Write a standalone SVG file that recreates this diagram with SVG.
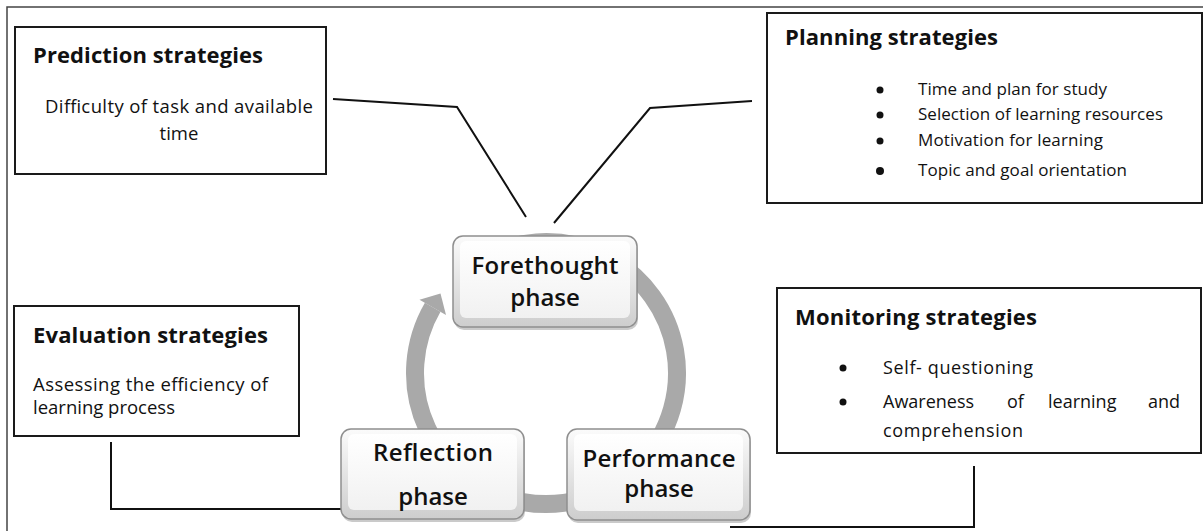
<svg xmlns="http://www.w3.org/2000/svg" width="1203" height="531" viewBox="0 0 1203 531">
<defs>
  <linearGradient id="bev" x1="0" y1="0" x2="0" y2="1">
    <stop offset="0" stop-color="#fbfbfb"/>
    <stop offset="1" stop-color="#cdcdcd"/>
  </linearGradient>
  <linearGradient id="face" x1="0" y1="0" x2="0" y2="1">
    <stop offset="0" stop-color="#ffffff"/>
    <stop offset="1" stop-color="#f1f1f1"/>
  </linearGradient>
</defs>
<style>
  .box{fill:#fff;stroke:#1a1a1a;stroke-width:2}
  .t{font-family:"Open Sans","Liberation Sans",sans-serif;fill:#111}
  .title{font-size:22px;font-weight:bold}
  .b17{font-size:17px;font-weight:500}
  .b18{font-size:18px;font-weight:500}
  .b19{font-size:18.5px;font-weight:500}
  .ph{font-size:24px;font-weight:600;text-anchor:middle}
  .conn{fill:none;stroke:#111;stroke-width:2}
  .pout{fill:url(#bev);stroke:#8f8f8f;stroke-width:1.5}
  .pin{fill:url(#face)}
  .shadow{fill:#8a8a8a;opacity:.45}
  .bullet{fill:#111}
  .cyc{fill:none;stroke:#a9a9a9;stroke-width:18}
</style>
<rect width="1203" height="531" fill="#fff"/>
<path d="M7,531 V7 H1203" fill="none" stroke="#444" stroke-width="1.5"/>

<g id="cycle-arrow">
  <path class="cyc" d="M480.5,259.6 A131,131 0 1 1 432.7,307.3"/>
  <polygon points="419.5,299.7 446,315 440.5,293.5" fill="#a9a9a9"/>
</g>

<g id="connectors">
  <polyline class="conn" points="333,99 457,107 526,217"/>
  <polyline class="conn" points="752,101 650,108 554,223"/>
  <polyline class="conn" points="111,442 111,509 343,509"/>
  <polyline class="conn" points="974,466 974,527 730,527"/>
</g>

<g id="prediction">
  <rect class="box" x="15" y="27" width="311" height="147"/>
  <text class="t title" x="33" y="63" textLength="230">Prediction strategies</text>
  <text class="t b19" x="45" y="113" textLength="268">Difficulty of task and available</text>
  <text class="t b19" x="179" y="140" text-anchor="middle">time</text>
</g>

<g id="planning">
  <rect class="box" x="767" y="13" width="435" height="190"/>
  <text class="t title" x="785" y="45" textLength="213">Planning strategies</text>
  <circle class="bullet" cx="880" cy="90" r="3.5"/>
  <circle class="bullet" cx="880" cy="115" r="3.5"/>
  <circle class="bullet" cx="880" cy="141" r="3.5"/>
  <circle class="bullet" cx="880" cy="171" r="4"/>
  <text class="t b17" x="918" y="95" textLength="189">Time and plan for study</text>
  <text class="t b17" x="918" y="120" textLength="245">Selection of learning resources</text>
  <text class="t b17" x="918" y="146" textLength="185">Motivation for learning</text>
  <text class="t b17" x="918" y="176" textLength="209">Topic and goal orientation</text>
</g>

<g id="evaluation">
  <rect class="box" x="14" y="306" width="285" height="130"/>
  <text class="t title" x="33" y="343" textLength="235">Evaluation strategies</text>
  <text class="t b19" x="33" y="391" textLength="235">Assessing the efficiency of</text>
  <text class="t b19" x="33" y="414">learning process</text>
</g>

<g id="monitoring">
  <rect class="box" x="777" y="288" width="424" height="165"/>
  <text class="t title" x="795" y="325" textLength="242">Monitoring strategies</text>
  <circle class="bullet" cx="843" cy="368" r="3.5"/>
  <circle class="bullet" cx="843" cy="402" r="3.5"/>
  <text class="t b18" x="883" y="374" textLength="150">Self- questioning</text>
  <text class="t b18" y="408"><tspan x="883">Awareness</tspan><tspan x="1007">of</tspan><tspan x="1048">learning</tspan><tspan x="1148">and</tspan></text>
  <text class="t b18" x="883" y="437" textLength="140">comprehension</text>
</g>

<g id="forethought">
  <rect class="shadow" x="454" y="239" width="184" height="91" rx="10"/>
  <rect class="pout" x="453" y="236" width="184" height="91" rx="10"/>
  <rect class="pin" x="460" y="241" width="170" height="77" rx="6"/>
  <text class="t ph" x="545" y="274" textLength="147">Forethought</text>
  <text class="t ph" x="545" y="306">phase</text>
</g>

<g id="reflection">
  <rect class="shadow" x="342" y="432" width="183" height="90" rx="10"/>
  <rect class="pout" x="341" y="429" width="183" height="90" rx="10"/>
  <rect class="pin" x="348" y="434" width="169" height="76" rx="6"/>
  <text class="t ph" x="433" y="461" textLength="120">Reflection</text>
  <text class="t ph" x="433" y="505">phase</text>
</g>

<g id="performance">
  <rect class="shadow" x="568" y="432" width="183" height="91" rx="10"/>
  <rect class="pout" x="567" y="429" width="183" height="91" rx="10"/>
  <rect class="pin" x="574" y="434" width="169" height="77" rx="6"/>
  <text class="t ph" x="659" y="467" textLength="153">Performance</text>
  <text class="t ph" x="659" y="497">phase</text>
</g>
</svg>
